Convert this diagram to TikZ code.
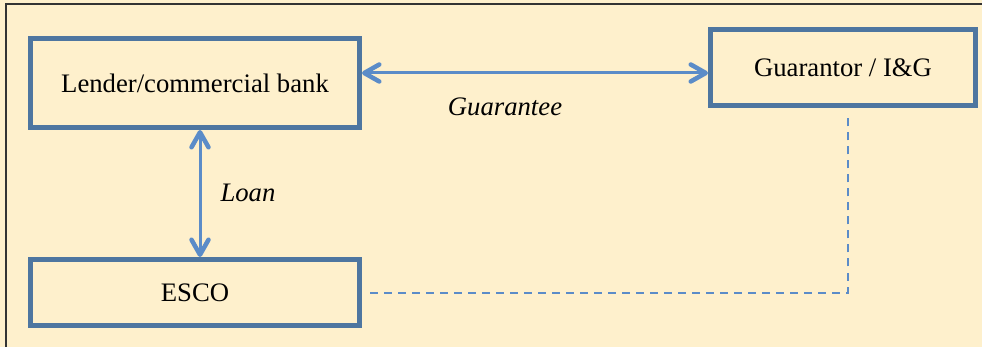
\documentclass[tikz,border=0pt]{standalone}
\usepackage{fontspec}
\setmainfont{Liberation Serif}
\usetikzlibrary{arrows.meta}

\definecolor{paper}{HTML}{FEF0CC}
\definecolor{boxline}{HTML}{4E76A0}
\definecolor{arrowline}{HTML}{5B8CC8}

\begin{document}
\begin{tikzpicture}[x=1pt,y=-1pt,font=\fontsize{26.7}{30}\selectfont]
  \tikzstyle{Party}=[draw=boxline,line width=5pt,rectangle,inner sep=0pt]
  \tikzstyle{Link}=[arrowline,line width=3pt,
    {Straight Barb[length=15pt,width=17pt,line width=4.5pt,round]}-{Straight Barb[length=15pt,width=17pt,line width=4.5pt,round]}]
  \tikzstyle{Tie}=[arrowline,line width=2pt,dash pattern=on 8pt off 6pt]
  \tikzstyle{Tag}=[font=\fontsize{26.7}{30}\selectfont\itshape]
  % background and frame
  \fill[paper] (0,0) rectangle (982,347);
  \useasboundingbox (0,0) rectangle (982,347);
  \draw[black!80,line width=1.5pt] (6,347) -- (6,4) -- (982,4);
  % parties
  \node[Party,minimum width=329pt,minimum height=89pt] (bank) at (195,83) {Lender/commercial bank};
  \node[Party,minimum width=265pt,minimum height=76pt] (guar) at (843,67.5) {Guarantor / I\&G};
  \node[Party,minimum width=329pt,minimum height=66pt] (esco) at (195,292.5) {ESCO};
  % links
  \draw[Link] ([yshift=10pt]bank.east) -- ([yshift=-5.5pt]guar.west);
  \draw[Link] ([xshift=5pt]bank.south) -- ([xshift=5pt]esco.north);
  \draw[Tie] ([xshift=8pt]esco.east) -| ([xshift=5pt,yshift=-10pt]guar.south);
  % labels
  \node[Tag] (guarantee) at (505,107) {Guarantee};
  \node[Tag] (loan) at (248,193) {Loan};
\end{tikzpicture}
\end{document}
